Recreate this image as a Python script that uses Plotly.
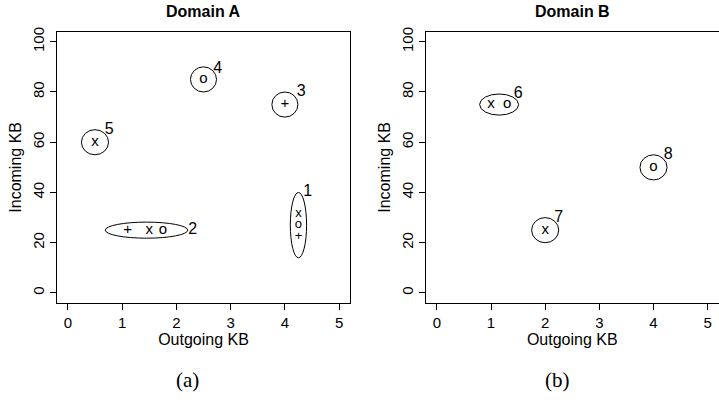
import plotly.graph_objects as go

# ---- data ----
# Domain A individual points (symbol, outgoing KB, incoming KB)
a_sym = ["x", "o", "+", "+", "x", "o", "+", "o", "x"]
a_x = [4.25, 4.25, 4.25, 1.1, 1.5, 1.75, 4.0, 2.5, 0.5]
a_y = [31.5, 27, 22.5, 25, 25, 25, 75, 85, 60]
# Domain A cluster ellipses (center x, center y, semi x, semi y)
a_cx = [4.25, 1.45, 4.0, 2.5, 0.5]
a_cy = [27, 25, 75, 85, 60]
a_rx = [0.15, 0.76, 0.24, 0.24, 0.25]
a_ry = [13, 3.2, 5, 5, 5]
a_lab = ["1", "2", "3", "4", "5"]
a_lx = [4.42, 2.3, 4.3, 2.76, 0.76]
a_ly = [40, 25, 80, 89, 65]

# Domain B
b_sym = ["x", "o", "x", "o"]
b_x = [1.0, 1.3, 2.0, 4.0]
b_y = [75, 75, 25, 50]
b_cx = [1.15, 2.0, 4.0]
b_cy = [75, 25, 50]
b_rx = [0.36, 0.25, 0.25]
b_ry = [4.2, 5, 5]
b_lab = ["6", "7", "8"]
b_lx = [1.5, 2.25, 4.27]
b_ly = [79, 30, 55]

x_ticks = [0, 1, 2, 3, 4, 5]
y_ticks = [0, 20, 40, 60, 80, 100]

FONT = "Liberation Sans"
SERIF = "Liberation Serif"

fig = go.Figure()

def add_panel(sym, xs, ys, cx, cy, rx, ry, lab, lx, ly, xa, ya, symsize):
    fig.add_trace(go.Scatter(x=xs, y=ys, mode="text", text=sym,
                             textfont=dict(family=FONT, size=symsize, color="black"),
                             textposition="middle center", hoverinfo="skip",
                             xaxis=xa, yaxis=ya, showlegend=False))
    fig.add_trace(go.Scatter(x=lx, y=ly, mode="text", text=lab,
                             textfont=dict(family=FONT, size=16, color="black"),
                             textposition="middle center", hoverinfo="skip",
                             xaxis=xa, yaxis=ya, showlegend=False))
    for i in range(len(cx)):
        fig.add_shape(type="circle", xref=xa, yref=ya,
                      x0=cx[i] - rx[i], x1=cx[i] + rx[i],
                      y0=cy[i] - ry[i], y1=cy[i] + ry[i],
                      line=dict(color="black", width=1))

a_size = [13, 13, 13, 15, 15, 15, 15, 15, 15]
add_panel(a_sym, a_x, a_y, a_cx, a_cy, a_rx, a_ry, a_lab, a_lx, a_ly, "x", "y", a_size)
add_panel(b_sym, b_x, b_y, b_cx, b_cy, b_rx, b_ry, b_lab, b_lx, b_ly, "x2", "y2", 15)

W, H = 719, 403
ydom = [1 - 303 / H, 1 - 31.7 / H]
xdomA = [57 / W, 350 / W]
xdomB = [426 / W, 718.5 / W]

axis_common = dict(showline=True, linecolor="black", linewidth=1, mirror=True,
                   ticks="outside", ticklen=6, tickcolor="black", tickwidth=1,
                   showgrid=False, zeroline=False, automargin=False,
                   tickfont=dict(family=FONT, size=15, color="black"))

def xax(dom, anchor):
    return dict(axis_common, domain=dom, anchor=anchor, range=[-0.2, 5.2],
                tickmode="array", tickvals=x_ticks,
                ticktext=[str(t) for t in x_ticks],
                title=dict(text="Outgoing KB", font=dict(family=FONT, size=16, color="black"),
                           standoff=2))

def yax(anchor):
    return dict(axis_common, domain=ydom, anchor=anchor, range=[-4, 104],
                tickmode="array", tickvals=y_ticks,
                ticktext=[str(t) for t in y_ticks], tickangle=-90,
                title=dict(text="Incoming KB", font=dict(family=FONT, size=16, color="black"),
                           standoff=4))

def note(text, x, y, family, size):
    return dict(text=text, x=x, y=y, xref="paper", yref="paper", showarrow=False,
                xanchor="center", yanchor="middle",
                font=dict(family=family, size=size, color="black"))

fig.update_layout(
    width=W, height=H,
    margin=dict(l=0, r=0, t=0, b=0),
    paper_bgcolor="white", plot_bgcolor="white",
    xaxis=xax(xdomA, "y"), yaxis=yax("x"),
    xaxis2=xax(xdomB, "y2"), yaxis2=yax("x2"),
    showlegend=False,
    annotations=[
        note("<b>Domain A</b>", (xdomA[0] + xdomA[1]) / 2, 1 - 11 / H, FONT, 16),
        note("<b>Domain B</b>", (xdomB[0] + xdomB[1]) / 2, 1 - 11 / H, FONT, 16),
        note("(a)", 187 / W, 1 - 380 / H, SERIF, 21),
        note("(b)", 557 / W, 1 - 380 / H, SERIF, 21),
    ],
)

fig.write_html("out.html", config={"displayModeBar": False},
               post_script="document.body.style.margin='0';document.body.style.overflow='hidden';")
